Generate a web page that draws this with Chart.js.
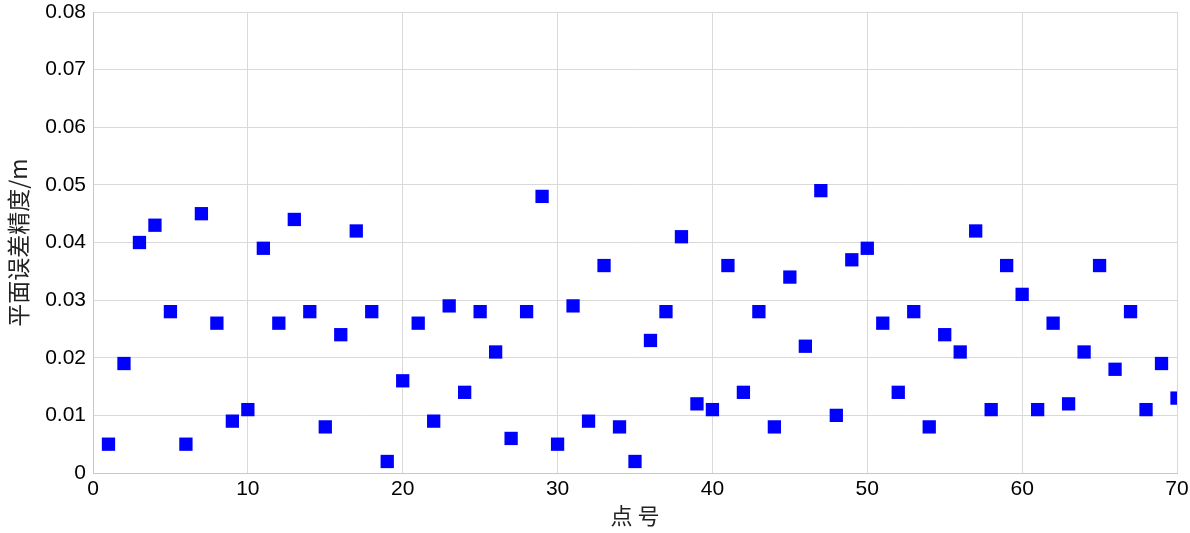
<!DOCTYPE html>
<html>
<head>
<meta charset="utf-8">
<script src="https://cdn.jsdelivr.net/npm/chart.js@4/dist/chart.umd.min.js"></script>
<style>
  html, body { margin: 0; padding: 0; background: #fff; }
  #wrap { width: 1190px; height: 533px; }
</style>
</head>
<body>
<div id="wrap"><canvas id="c"></canvas></div>
<script>
// 点号 / 平面误差精度 (m)
const pointIds = Array.from({ length: 70 }, (_, i) => i + 1);
const errors = [
  0.005, 0.019, 0.040, 0.043, 0.028, 0.005, 0.045, 0.026, 0.009, 0.011,
  0.039, 0.026, 0.044, 0.028, 0.008, 0.024, 0.042, 0.028, 0.002, 0.016,
  0.026, 0.009, 0.029, 0.014, 0.028, 0.021, 0.006, 0.028, 0.048, 0.005,
  0.029, 0.009, 0.036, 0.008, 0.002, 0.023, 0.028, 0.041, 0.012, 0.011,
  0.036, 0.014, 0.028, 0.008, 0.034, 0.022, 0.049, 0.010, 0.037, 0.039,
  0.026, 0.014, 0.028, 0.008, 0.024, 0.021, 0.042, 0.011, 0.036, 0.031,
  0.011, 0.026, 0.012, 0.021, 0.036, 0.018, 0.028, 0.011, 0.019, 0.013
];
const xTitle = "点 号";
const yTitle = "平面误差精度/m";

const font = "'Liberation Sans', Arial, sans-serif";
const cjk = "'Noto Sans CJK SC', 'Liberation Sans', sans-serif";
const gridColor = "#d9d9d9";

new Chart(document.getElementById("c").getContext("2d"), {
  type: "scatter",
  data: {
    datasets: [{
      data: pointIds.map((x, i) => ({ x, y: errors[i] })),
      pointStyle: "rect",
      pointRadius: 9.4,
      pointHoverRadius: 9.4,
      backgroundColor: "#0000ff",
      borderColor: "#0000ff",
      borderWidth: 0
    }]
  },
  options: {
    responsive: true,
    maintainAspectRatio: false,
    animation: false,
    layout: { padding: { top: 12, right: 13, left: 0, bottom: 0 } },
    plugins: { legend: { display: false }, tooltip: { enabled: false } },
    scales: {
      x: {
        type: "linear", min: 0, max: 70,
        ticks: { stepSize: 10, color: "#000", font: { family: font, size: 21 }, padding: 4 },
        grid: { color: gridColor, drawTicks: false },
        border: { color: "#c8c8c8" },
        title: { display: true, text: xTitle, color: "#222", font: { family: cjk, size: 22 }, padding: { top: 0 } },
        afterFit: s => { s.height = 60; s.paddingLeft = 0; s.paddingRight = 0; }
      },
      y: {
        min: 0, max: 0.08,
        ticks: { stepSize: 0.01, color: "#000", font: { family: font, size: 21 }, padding: 7 },
        grid: { color: gridColor, drawTicks: false },
        border: { color: "#c8c8c8" },
        title: { display: true, text: yTitle, color: "#222", font: { family: cjk, size: 23 }, padding: { top: 4, bottom: 0 } },
        afterFit: s => { s.width = 93; s.paddingTop = 0; s.paddingBottom = 0; }
      }
    }
  }
});
</script>
</body>
</html>
